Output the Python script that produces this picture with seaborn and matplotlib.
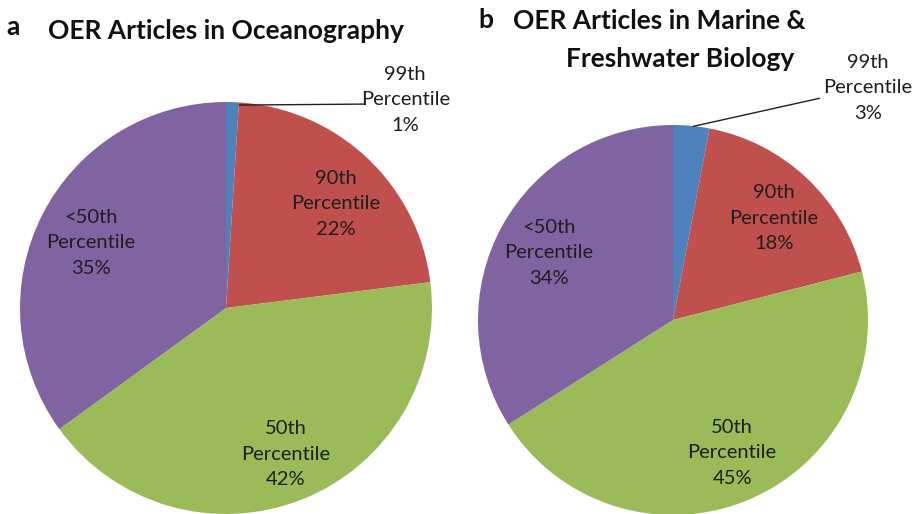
import matplotlib
matplotlib.use("Agg")
import matplotlib.pyplot as plt
import seaborn as sns

# slice order: clockwise from 12 o'clock
categories = ["99th\nPercentile", "90th\nPercentile", "50th\nPercentile", "<50th\nPercentile"]
oceanography_pct = [1, 22, 42, 35]
marine_pct = [3, 18, 45, 34]

slice_colors = ["#4F81BD", "#C0504D", "#9BBB59", "#8064A2"]
label_kw = dict(ha="center", va="center", fontsize=14.5, color="#1e1e1e", linespacing=1.6)


def draw_pie(ax, values, label_pos, top_line):
    ax.pie(values, colors=slice_colors, startangle=90, counterclock=False,
           radius=1, wedgeprops=dict(linewidth=0))
    ax.set_xlim(-1, 1)
    ax.set_ylim(-1, 1)
    ax.set_aspect("equal")
    ax.axis("off")

    # leader line for the tiny 99th slice
    ax.annotate("", xy=top_line[0], xytext=top_line[1],
                arrowprops=dict(arrowstyle="-", color="#202020", lw=1.0),
                annotation_clip=False)
    for cat, val, (x, y) in zip(categories, values, label_pos):
        ax.text(x, y, f"{cat}\n{val}%", clip_on=False, **label_kw)


sns.set_theme(style="white")
plt.rcParams["font.family"] = ["Lato", "DejaVu Sans"]

W, H = 921, 514
fig = plt.figure(figsize=(W / 100, H / 100), dpi=100)

# left pie: centre (226, 308), radius 206 px
ax1 = fig.add_axes([20 / W, (H - 514) / H, 412 / W, 412 / H])
draw_pie(ax1, oceanography_pct,
         [(0.87, 1.01), (0.534, 0.505), (0.291, -0.709), (-0.655, 0.316)],
         top_line=((0.05, 0.985), (0.69, 0.99)))

# right pie: centre (673, 320), radius 195 px
ax2 = fig.add_axes([478 / W, (H - 515) / H, 390 / W, 390 / H])
draw_pie(ax2, marine_pct,
         [(1.0, 1.19), (0.518, 0.523), (0.303, -0.682), (-0.636, 0.344)],
         top_line=((0.09, 0.99), (0.765, 1.14)))

title_kw = dict(fontsize=19, fontweight="bold", va="center", color="#111111")
fig.text(6 / W, 1 - 27 / H, "a", ha="left", **title_kw)
fig.text(226 / W, 1 - 31 / H, "OER Articles in Oceanography", ha="center", **title_kw)
fig.text(478 / W, 1 - 20 / H, "b", ha="left", **title_kw)
fig.text(659 / W, 1 - 21 / H, "OER Articles in Marine &", ha="center", **title_kw)
fig.text(680 / W, 1 - 59 / H, "Freshwater Biology", ha="center", **title_kw)

fig.savefig("out.png", dpi=100)
